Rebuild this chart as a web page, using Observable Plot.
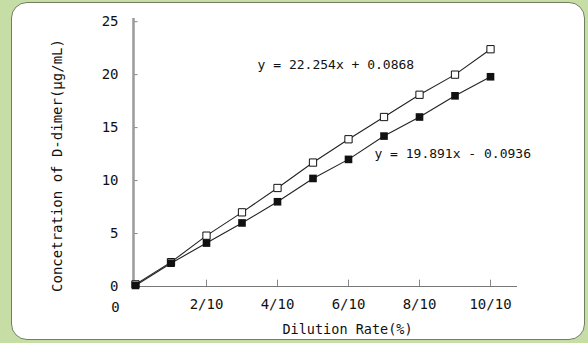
<!DOCTYPE html>
<html><head><meta charset="utf-8">
<script src="https://cdn.jsdelivr.net/npm/d3@7"></script>
<script src="https://cdn.jsdelivr.net/npm/@observablehq/plot@0.6"></script>
<style>
html,body{margin:0;padding:0;width:588px;height:343px;overflow:hidden;background:#c6dea5;}
#panel{position:absolute;left:11px;top:2px;width:572px;height:336px;background:#fff;border:1.5px solid #6f7f60;border-radius:16px;}
#chart{position:absolute;left:0;top:0;}
</style></head><body><div id="panel"></div><div id="chart"></div>
<script>
const dilution = [0, 0.1, 0.2, 0.3, 0.4, 0.5, 0.6, 0.7, 0.8, 0.9, 1.0];
const seriesOpen = [0.2, 2.3, 4.8, 7.0, 9.3, 11.7, 13.9, 16.0, 18.1, 20.0, 22.4];
const seriesFilled = [0.1, 2.2, 4.1, 6.0, 8.0, 10.2, 12.0, 14.2, 16.0, 18.0, 19.8];
const xTicks = [0.2, 0.4, 0.6, 0.8, 1.0];
const xTickLabels = ["2/10", "4/10", "6/10", "8/10", "10/10"];
const yTicks = [0, 5, 10, 15, 20, 25];
const equations = [
  {text: "y = 22.254x + 0.0868", x: 0.344, y: 20.9},
  {text: "y = 19.891x - 0.0936", x: 0.673, y: 12.5}
];
const xDomain = [-0.0056, 1.076];
const yDomain = [0, 25.3];
const font = "DejaVu Sans Mono";

const openData = dilution.map((x, i) => ({x, y: seriesOpen[i]}));
const filledData = dilution.map((x, i) => ({x, y: seriesFilled[i]}));

const chart = Plot.plot({
  width: 588, height: 343,
  marginLeft: 133, marginRight: 71, marginTop: 18, marginBottom: 57,
  style: {background: "transparent", fontFamily: font, color: "#111"},
  x: {domain: xDomain},
  y: {domain: yDomain},
  marks: [
    Plot.ruleY(yTicks.slice(1), {x1: xDomain[0], x2: xDomain[0] + 0.013, stroke: "#888"}),
    Plot.ruleX(xTicks, {y1: 0, y2: 0.6, stroke: "#888"}),
    Plot.ruleX([xDomain[0]], {y1: 0, y2: yDomain[1], stroke: "#9a9a9a", strokeWidth: 2.5}),
    Plot.ruleY([0], {x1: xDomain[0], x2: xDomain[1], stroke: "#777", strokeWidth: 1.2}),
    Plot.axisY({ticks: yTicks, tickSize: 0, tickPadding: 15, fontSize: 14, label: null}),
    Plot.axisX({ticks: xTicks, tickSize: 0, tickPadding: 13, fontSize: 14, label: null,
      tickFormat: d => xTickLabels[xTicks.indexOf(d)]}),
    Plot.text(["0"], {x: xDomain[0], y: 0, dx: -18, dy: 21, fontSize: 14, fill: "#111"}),
    Plot.line(openData, {x: "x", y: "y", stroke: "#222", strokeWidth: 1.1}),
    Plot.line(filledData, {x: "x", y: "y", stroke: "#222", strokeWidth: 1.1}),
    Plot.dot(openData, {x: "x", y: "y", symbol: "square", r: 4.1, fill: "white", stroke: "#111", strokeWidth: 1}),
    Plot.dot(filledData, {x: "x", y: "y", symbol: "square", r: 4.3, fill: "#111", stroke: "none"}),
    Plot.text(equations, {x: "x", y: "y", text: "text", textAnchor: "start", fontSize: 13, fill: "#111"}),
    Plot.text(["Dilution Rate(%)"], {frameAnchor: "bottom", textAnchor: "middle", dx: 22, dy: 47, fontSize: 13.5, fill: "#111"}),
    Plot.text(["Concetration of D-dimer(μg/mL)"], {frameAnchor: "left", textAnchor: "middle", rotate: -90, dx: -76, dy: 13, fontSize: 14, fill: "#111"})
  ]
});
document.getElementById("chart").appendChild(chart);
</script></body></html>
